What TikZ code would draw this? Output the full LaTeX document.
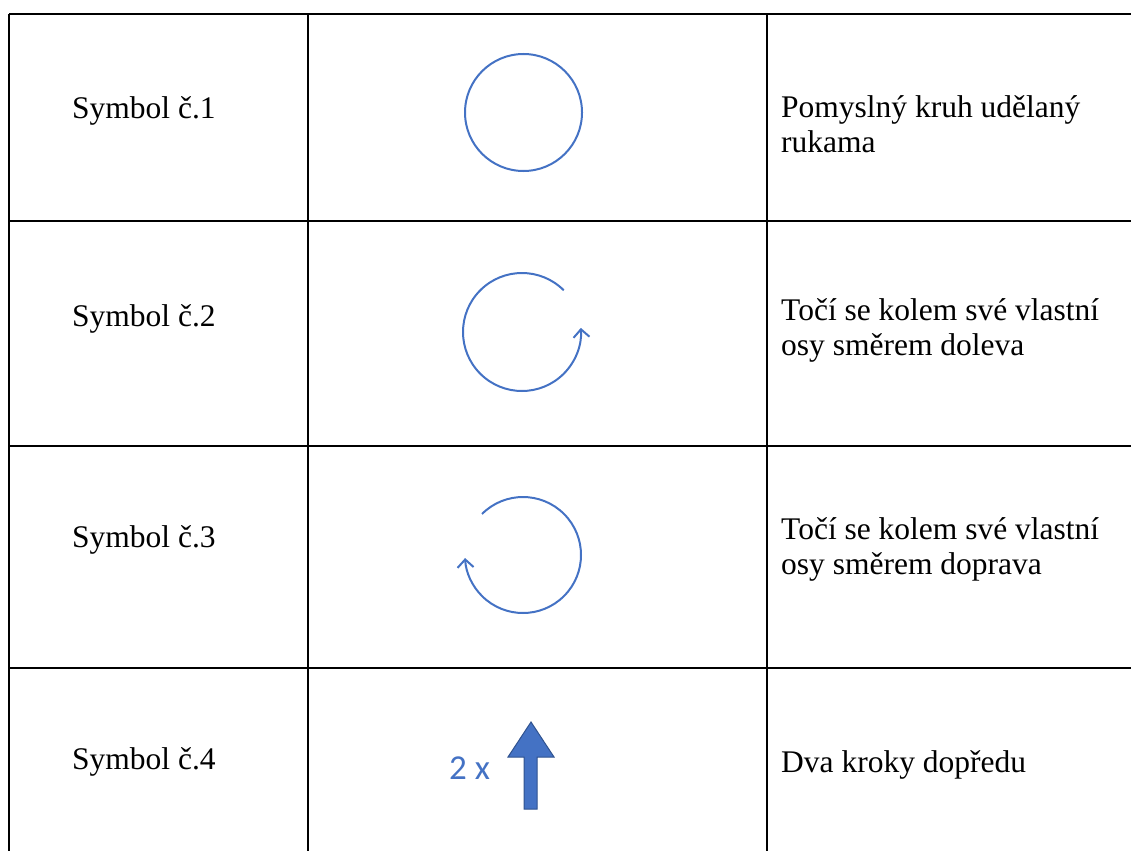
\documentclass[tikz,border=0pt]{standalone}
\usepackage{fontspec}
\setmainfont{Liberation Serif}
\newfontfamily\calibri{Carlito}
\usetikzlibrary{arrows.meta}
\definecolor{azul}{HTML}{4472C4}
\definecolor{azuloscuro}{HTML}{2F528F}

\begin{document}
\begin{tikzpicture}[x=1pt,y=1pt,
         linea/.style={line width=2pt,black},
         texto/.style={anchor=base west,inner sep=0pt,align=left,
                       font=\fontsize{31.5}{35}\selectfont},
         circulo/.style={azul,line width=2pt},
         giro/.style={circulo,-{Straight Barb[length=8pt,width=16pt,line width=2pt]}},
         flecha/.style={fill=azul,draw=azuloscuro,line width=1pt,line join=miter}]
        \useasboundingbox (0,0) rectangle (1131,-851);
        % tabla
        \foreach \y in {14,221,446,668}
          \draw [linea] (9,-\y) -- (1131,-\y);
        \foreach \x in {9,308,767}
          \draw [linea] (\x,-14) -- (\x,-851);
        % columna izquierda
        \node [texto] (sim1) at (72,-118) {Symbol č.1};
        \node [texto] (sim2) at (72,-326) {Symbol č.2};
        \node [texto] (sim3) at (72,-547) {Symbol č.3};
        \node [texto] (sim4) at (72,-769) {Symbol č.4};
        % simbolos
        \coordinate (c1) at (523.5,-112.5);
        \coordinate (c2) at (522,-332);
        \coordinate (c3) at (523,-555);
        \draw [circulo] (c1) circle [radius=58.5];
        \draw [giro] (c2) ++(45:59) arc [start angle=45,end angle=364,radius=59];
        \draw [giro] (c3) ++(135:58) arc [start angle=135,end angle=-177,radius=58];
        \node [texto,font=\calibri\fontsize{35}{40}\selectfont,text=azul] (veces) at (449,-779) {2 x};
        \draw [flecha] (531,-722) -- (554,-757) -- (537,-757) -- (537,-809)
                       -- (524,-809) -- (524,-757) -- (508,-757) -- cycle;
        % columna derecha (base = ultima linea)
        \node [texto] (desc1) at (781,-152) {Pomyslný kruh udělaný\\rukama};
        \node [texto] (desc2) at (781,-355) {Točí se kolem své vlastní\\osy směrem doleva};
        \node [texto] (desc3) at (781,-574) {Točí se kolem své vlastní\\osy směrem doprava};
        \node [texto] (desc4) at (781,-772) {Dva kroky dopředu};
\end{tikzpicture}
\end{document}
